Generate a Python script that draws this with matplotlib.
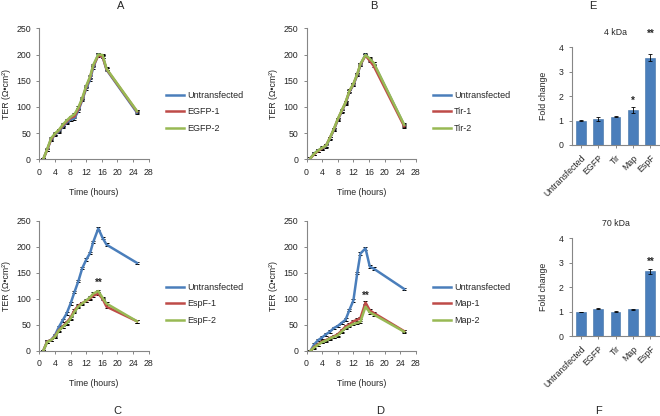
import matplotlib
matplotlib.use("Agg")
import matplotlib.pyplot as plt

plt.rcParams["font.family"] = ["Liberation Sans", "DejaVu Sans"]

W, H = 660, 416

# time points (hours), shared by all four TER panels
T = [1, 2, 3, 4, 5, 6, 7, 8, 9, 10, 11, 12, 13, 13.8, 15.1, 16.2, 17.2, 25]

A_UNTR = [0, 18, 37, 47, 53, 62, 70, 76, 78, 93, 113, 135, 152, 175, 200, 196, 171, 89]
A_EGFP1 = [0, 18, 38, 48, 55, 64, 72, 79, 82, 96, 115, 138, 156, 178, 198, 196, 172, 91]
A_EGFP2 = [0, 19, 40, 49, 56, 66, 74, 81, 86, 99, 117, 140, 158, 180, 200, 199, 173, 92]

B_UNTR = [2, 11, 17, 21, 25, 40, 56, 75, 91, 107, 129, 142, 161, 180, 200, 190, 183, 65]
B_TIR1 = [2, 10, 16, 21, 26, 41, 57, 76, 92, 108, 130, 143, 162, 181, 198, 188, 178, 63]
B_TIR2 = [2, 11, 17, 22, 26, 41, 58, 77, 93, 109, 131, 144, 163, 182, 199, 192, 184, 66]

C_UNTR = [0, 18, 21, 30, 46, 59, 72, 91, 113, 134, 159, 175, 188, 209, 235, 217, 204, 169]
C_ESPF1 = [0, 18, 21, 28, 40, 47, 55, 64, 78, 87, 92, 96, 101, 106, 110, 100, 85, 57]
C_ESPF2 = [0, 17, 21, 27, 39, 46, 53, 62, 75, 85, 91, 97, 103, 110, 115, 102, 91, 57]

D_UNTR = [0, 13, 21, 26, 32, 37, 44, 48, 54, 60, 79, 97, 150, 187, 197, 162, 158, 119]
D_MAP1 = [0, 8, 13, 18, 21, 25, 28, 32, 39, 47, 51, 57, 60, 63, 93, 78, 73, 38]
D_MAP2 = [0, 7, 12, 17, 20, 24, 27, 30, 37, 44, 48, 52, 54, 56, 85, 74, 70, 37]

GROUPS = ["Untransfected", "EGFP", "Tir", "Map", "EspF"]
E_FOLD = [1.0, 1.07, 1.15, 1.45, 3.58]
E_ERR = [0.01, 0.08, 0.02, 0.12, 0.15]
F_FOLD = [0.98, 1.12, 1.0, 1.1, 2.65]
F_ERR = [0.01, 0.03, 0.02, 0.02, 0.1]

BLUE = "#4A7EBB"
RED = "#BE4B48"
GREEN = "#98B954"
AXIS = "#868686"
TXT = "#262626"


def px_axes(fig, x0, y_top, x1, y_bot):
    return fig.add_axes([x0 / W, 1 - y_bot / H, (x1 - x0) / W, (y_bot - y_top) / H])


def style(ax):
    for s in ("top", "right"):
        ax.spines[s].set_visible(False)
    for s in ("left", "bottom"):
        ax.spines[s].set_color(AXIS)
        ax.spines[s].set_linewidth(0.8)
    ax.tick_params(axis="both", direction="out", length=2.5, width=0.7,
                   color=AXIS, labelsize=6.3, labelcolor=TXT, pad=3.5)


def ter_panel(fig, x0, y_top, y_bot, series, labels, legend_x, legend_y, stars=None):
    ax = px_axes(fig, x0, y_top, x0 + 109.4, y_bot)
    style(ax)
    for vals, lab, col in zip(series, labels, (BLUE, RED, GREEN)):
        ax.errorbar(T, vals, yerr=2.5, color=col, lw=1.8, ecolor="black",
                    elinewidth=0.5, capsize=1.2, capthick=0.7, label=lab)
    ax.set_xlim(0, 28)
    ax.set_ylim(0, 250)
    ax.set_xticks(range(0, 29, 4))
    ax.set_yticks(range(0, 251, 50))
    ax.set_xlabel("Time (hours)", fontsize=6.3, color=TXT, labelpad=8)
    ax.set_ylabel("TER (\u03a9\u2022cm\u00b2)", fontsize=6.3, color=TXT, labelpad=4)
    if stars:
        ax.text(stars[0], stars[1], "**", ha="center", va="center",
                fontsize=7, fontweight="bold", color=TXT)
    labs = ax.get_legend_handles_labels()[1]
    handles = [plt.Line2D([], [], color=c, lw=1.8) for c in (BLUE, RED, GREEN)]
    ax.legend(handles, labs, loc="center left", bbox_to_anchor=(legend_x / W, 1 - legend_y / H),
              bbox_transform=fig.transFigure, frameon=False, fontsize=6.5,
              handlelength=2.0, handletextpad=0.3, labelspacing=0.8,
              borderpad=0, borderaxespad=0, labelcolor=TXT)
    return ax


def bar_panel(fig, y_top, y_bot, vals, errs, title, stars):
    ax = px_axes(fig, 572, y_top, 659, y_bot)
    style(ax)
    x = range(len(GROUPS))
    ax.bar(x, vals, width=0.57, color=BLUE, edgecolor="#3F6FA6", linewidth=0.4,
           yerr=errs, error_kw=dict(ecolor="black", elinewidth=0.6, capsize=1.5, capthick=0.6))
    ax.set_xlim(-0.5, 4.5)
    ax.set_ylim(0, 4)
    ax.set_yticks(range(0, 5))
    ax.set_xticks(list(x))
    ax.set_xticklabels(GROUPS, rotation=45, ha="right", rotation_mode="anchor")
    ax.set_ylabel("Fold change", fontsize=6.3, color=TXT, labelpad=8)
    ax.set_title(title, fontsize=6.3, color=TXT, pad=9)
    for i, y, s in stars:
        ax.text(i, y, s, ha="center", va="center", fontsize=7, fontweight="bold",
                color=TXT, clip_on=False)
    return ax


fig = plt.figure(figsize=(W / 100, H / 100), dpi=100)

ter_panel(fig, 39.3, 28.3, 159.3, [A_UNTR, A_EGFP1, A_EGFP2],
          ["Untransfected", "EGFP-1", "EGFP-2"], 166, 112)
ter_panel(fig, 306.5, 28.3, 159.3, [B_UNTR, B_TIR1, B_TIR2],
          ["Untransfected", "Tir-1", "Tir-2"], 433, 112)
ter_panel(fig, 39.3, 220.7, 351, [C_UNTR, C_ESPF1, C_ESPF2],
          ["Untransfected", "EspF-1", "EspF-2"], 166, 304, stars=(15.1, 130))
ter_panel(fig, 306.5, 220.7, 351, [D_UNTR, D_MAP1, D_MAP2],
          ["Untransfected", "Map-1", "Map-2"], 433, 304, stars=(15.1, 106))

bar_panel(fig, 47.3, 145, E_FOLD, E_ERR, "4 kDa", [(3, 1.82, "*"), (4, 4.55, "**")])
bar_panel(fig, 238.3, 336, F_FOLD, F_ERR, "70 kDa", [(4, 3.05, "**")])

for letter, x, y in [("A", 121, 6), ("B", 374, 6), ("E", 593, 6),
                     ("C", 117, 411), ("D", 380, 411), ("F", 598, 411)]:
    fig.text(x / W, 1 - y / H, letter, ha="center", va="center", fontsize=8, color=TXT)

fig.savefig("out.png", dpi=100)
